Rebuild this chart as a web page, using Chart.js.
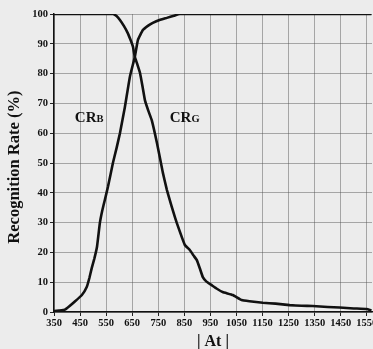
<!DOCTYPE html>
<html>
<head>
<meta charset="utf-8">
<script src="https://cdn.jsdelivr.net/npm/chart.js@4"></script>
<style>
html, body { margin: 0; padding: 0; background: #ececec; overflow: hidden; }
#wrap { width: 373px; height: 349px; overflow: hidden; }
</style>
</head>
<body>
<div id="wrap"><canvas id="chart" width="392" height="352"></canvas></div>
<script>
// |At| values and recognition rates
const crbX = [350, 576, 590, 603, 618, 633, 645, 653, 660, 670, 680, 690, 699, 712, 725, 745, 768, 783, 794, 808, 821, 840, 852, 871, 885, 898, 910, 921, 935, 955, 975, 997, 1036, 1070, 1100, 1151, 1200, 1254, 1300, 1342, 1400, 1446, 1500, 1549, 1568];
const crbY = [100, 100, 99.3, 98, 96, 93.6, 91, 89, 85.6, 83, 80.2, 75.5, 71, 67.5, 64.4, 56.7, 46.6, 41, 37.6, 33.5, 29.9, 25.2, 22.5, 20.8, 19, 17.4, 14.5, 11.7, 10.2, 9, 7.8, 6.7, 5.7, 4, 3.6, 3.1, 2.8, 2.3, 2.1, 2.0, 1.7, 1.5, 1.2, 1.0, 0.5];
const crgX = [350, 370, 392, 410, 430, 457, 476, 486, 495, 505, 515, 526, 535, 545, 557, 576, 590, 603, 622, 641, 660, 672, 691, 710, 729, 755, 783, 810, 833, 1568];
const crgY = [0.3, 0.5, 0.8, 2, 3.5, 5.7, 8.5, 11.5, 14.8, 18, 21.9, 29.9, 34, 37.6, 42, 50, 55, 60, 68.8, 78.9, 85.6, 91.3, 94.6, 96, 97, 98, 98.7, 99.4, 100, 100];
const xTicks = [350, 450, 550, 650, 750, 850, 950, 1050, 1150, 1250, 1350, 1450, 1550];
const curveNames = ['B', 'G'];
const labelX = [430, 794];
const labelY = [63.8, 63.8];

const serif = '"Liberation Serif", "DejaVu Serif", serif';

const toPoints = (xs, ys) => xs.map((v, i) => ({x: v, y: ys[i]}));

const labelPlugin = {
    id: 'crLabels',
    afterDatasetsDraw(chart) {
        const {ctx, scales: {x, y}} = chart;
        ctx.save();
        ctx.fillStyle = '#111';
        ctx.textBaseline = 'alphabetic';
        curveNames.forEach((n, i) => {
            const px = x.getPixelForValue(labelX[i]);
            const py = y.getPixelForValue(labelY[i]);
            ctx.font = 'bold 15px ' + serif;
            ctx.fillText('CR', px, py);
            const w = ctx.measureText('CR').width;
            ctx.font = 'bold 10.5px ' + serif;
            ctx.fillText(n, px + w, py);
        });
        ctx.restore();
    }
};

const gridColor = 'rgba(80,80,80,0.45)';

const ctx = document.getElementById('chart');
new Chart(ctx, {
    type: 'scatter',
    data: {
        datasets: [
            {
                label: 'CRB',
                data: toPoints(crbX, crbY),
                showLine: true,
                borderColor: '#111',
                borderWidth: 2.6,
                pointRadius: 0,
                tension: 0.1
            },
            {
                label: 'CRG',
                data: toPoints(crgX, crgY),
                showLine: true,
                borderColor: '#111',
                borderWidth: 2.6,
                pointRadius: 0,
                tension: 0.1
            }
        ]
    },
    options: {
        responsive: false,
        animation: false,
        devicePixelRatio: 1,
        layout: {padding: {top: 14, right: 20, bottom: 0, left: 0}},
        plugins: {
            legend: {display: false},
            tooltip: {enabled: false}
        },
        scales: {
            x: {
                type: 'linear',
                min: 350,
                max: 1570,
                afterBuildTicks: s => { s.ticks = xTicks.map(v => ({value: v})); },
                afterFit: s => { s.height = 40; },
                grid: {color: gridColor, lineWidth: 1, tickLength: 4, tickColor: '#222'},
                border: {color: '#111', width: 1.5},
                ticks: {
                    color: '#111',
                    padding: 1,
                    maxRotation: 0,
                    autoSkip: false,
                    callback: v => String(v),
                    font: {family: serif, size: 10.5, weight: 'bold'}
                },
                title: {
                    display: true,
                    text: '| At |',
                    color: '#111',
                    padding: {top: 0, bottom: 1},
                    font: {family: serif, size: 16, weight: 'bold'}
                }
            },
            y: {
                min: 0,
                max: 100,
                afterFit: s => { s.width = 54; },
                grid: {color: gridColor, lineWidth: 1, tickLength: 4, tickColor: '#222'},
                border: {color: '#111', width: 1.5},
                ticks: {
                    stepSize: 10,
                    color: '#111',
                    padding: 2,
                    font: {family: serif, size: 10.5, weight: 'bold'}
                },
                title: {
                    display: true,
                    text: 'Recognition Rate (%)\u00a0\u00a0',
                    color: '#111',
                    padding: {top: 5, bottom: 0},
                    font: {family: serif, size: 16.5, weight: 'bold'}
                }
            }
        }
    },
    plugins: [labelPlugin]
});
</script>
</body>
</html>
